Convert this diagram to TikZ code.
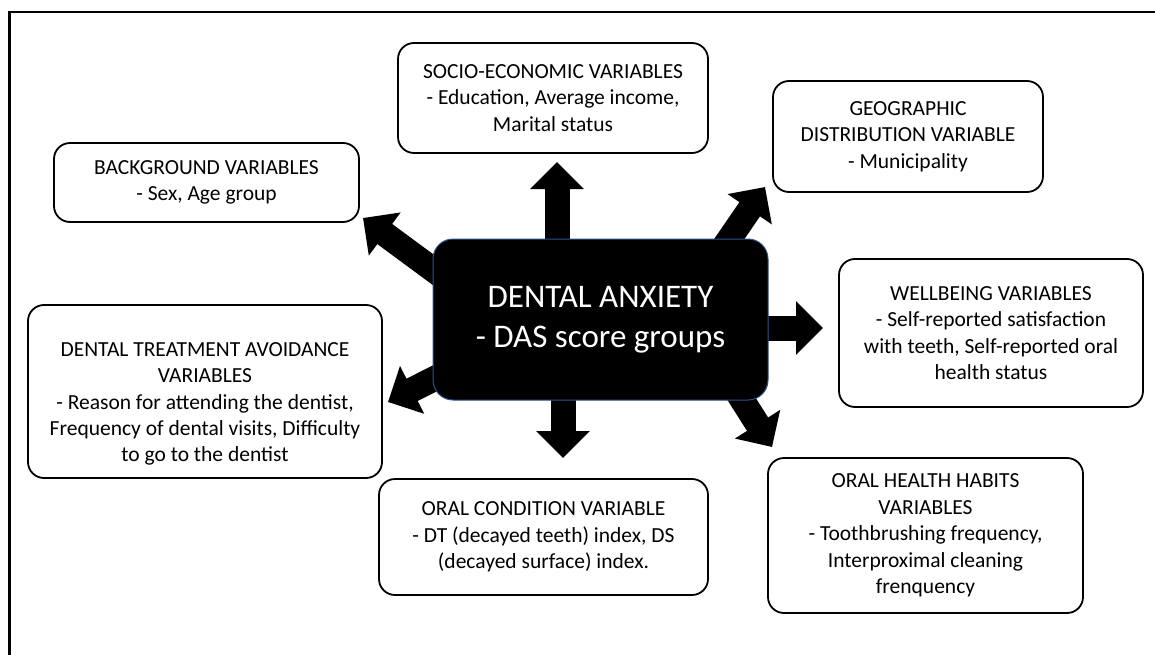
\documentclass[tikz,border=0pt]{standalone}
\usepackage{fontspec}
\setmainfont{Carlito}
\usetikzlibrary{arrows.meta}
\definecolor{daborder}{HTML}{2F528F}
\begin{document}
\begin{tikzpicture}[x=1pt,y=-1pt,
  varbox/.style={draw=black, line width=1.8pt, rounded corners=16pt, fill=white,
    align=center, font=\fontsize{21.5}{26.4}\selectfont, inner sep=0pt},
  vartext/.style={align=center, font=\fontsize{21.5}{26.4}\selectfont, inner sep=0pt},
  bigarrow/.style={line width=25pt, -{Triangle[width=52pt,length=27pt]}},
  centralbox/.style={draw=daborder, fill=black, line width=1pt, rounded corners=20pt,
    text=white, align=center, font=\fontsize{33}{40}\selectfont, inner sep=0pt},
  frameline/.style={line width=2.3pt}]
\useasboundingbox (0,0) rectangle (1155,655);
\draw[frameline] (9.5,655) -- (9.5,12) -- (1155,12);

% variable boxes
\node[varbox, minimum width=310pt, minimum height=110pt] (socio) at (553,98)
  {SOCIO-ECONOMIC VARIABLES\\- Education, Average income,\\Marital status};
\node[varbox, minimum width=270pt, minimum height=111pt] (geo) at (908,136.5)
  {GEOGRAPHIC\\DISTRIBUTION VARIABLE\\- Municipality};
\node[varbox, minimum width=305pt, minimum height=79pt] (bg) at (206.5,182.5)
  {BACKGROUND VARIABLES\\- Sex, Age group};
\node[varbox, minimum width=354pt, minimum height=173pt] (dta) at (205,391.5) {};
\node[vartext] (dtatext) at (205,404)
  {DENTAL TREATMENT AVOIDANCE\\VARIABLES\\- Reason for attending the dentist,\\Frequency of dental visits, Difficulty\\to go to the dentist};
\node[varbox, minimum width=304pt, minimum height=148pt] (well) at (991,333)
  {WELLBEING VARIABLES\\- Self-reported satisfaction\\with teeth, Self-reported oral\\health status};
\node[varbox, minimum width=329pt, minimum height=116pt] (oral) at (543.5,537)
  {ORAL CONDITION VARIABLE\\- DT (decayed teeth) index, DS\\(decayed surface) index.};
\node[varbox, minimum width=315pt, minimum height=155pt] (habits) at (925.5,535.5)
  {ORAL HEALTH HABITS\\VARIABLES\\- Toothbrushing frequency,\\Interproximal cleaning\\frenquency};

% arrow start and tip coordinates
\coordinate (sSocio) at (557,300);   \coordinate (tSocio) at (557,162);
\coordinate (sGeo) at (697,286);     \coordinate (tGeo) at (765,187);
\coordinate (sBg) at (483,306.5);    \coordinate (tBg) at (363,218);
\coordinate (sWell) at (700,328);    \coordinate (tWell) at (823,328);
\coordinate (sHab) at (708,346);     \coordinate (tHab) at (772,447);
\coordinate (sOral) at (563,340);    \coordinate (tOral) at (563,458);
\coordinate (sDta) at (495,348);     \coordinate (tDta) at (388,402);

\draw[bigarrow] (sSocio) -- (tSocio);
\draw[bigarrow] (sGeo) -- (tGeo);
\draw[bigarrow] (sBg) -- (tBg);
\draw[bigarrow] (sWell) -- (tWell);
\draw[bigarrow] (sHab) -- (tHab);
\draw[bigarrow] (sOral) -- (tOral);
\draw[bigarrow] (sDta) -- (tDta);

% central node
\node[centralbox, minimum width=335pt, minimum height=161pt] (da) at (600.5,319.5)
  {DENTAL ANXIETY\\- DAS score groups};
\end{tikzpicture}
\end{document}
